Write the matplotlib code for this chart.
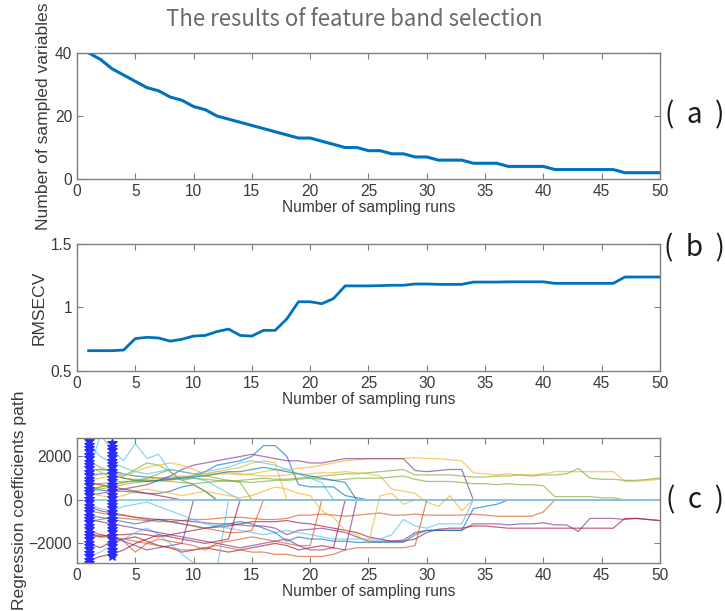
import numpy as np
import matplotlib
matplotlib.use("Agg")
import matplotlib.pyplot as plt

plt.rcParams['font.family'] = ['Liberation Sans', 'DejaVu Sans']

runs = np.arange(1, 51)

n_vars = [40, 38, 35, 33, 31, 29, 28, 26, 25, 23,
          22, 20, 19, 18, 17, 16, 15, 14, 13, 13,
          12, 11, 10, 10, 9, 9, 8, 8, 7, 7,
          6, 6, 6, 5, 5, 5, 4, 4, 4, 4,
          3, 3, 3, 3, 3, 3, 2, 2, 2, 2]

rmsecv = [0.66, 0.66, 0.66, 0.665, 0.755, 0.765, 0.76, 0.735, 0.75, 0.775,
          0.78, 0.81, 0.83, 0.78, 0.775, 0.82, 0.82, 0.91, 1.045, 1.045,
          1.03, 1.07, 1.17, 1.17, 1.17, 1.172, 1.175, 1.175, 1.185, 1.185,
          1.182, 1.182, 1.182, 1.2, 1.2, 1.2, 1.202, 1.202, 1.202, 1.202,
          1.19, 1.19, 1.19, 1.19, 1.19, 1.19, 1.24, 1.24, 1.24, 1.24]

# regression coefficient paths (one list per variable, runs 1..50)
path_01 = [1400, 1400, 1350, 1200, 1100, 1050, 1000, 1000, 1050, 1100,
           1300, 1600, 1700, 1800, 2000, 2500, 2500, 2000, 700, 600,
           600, 600, 200, 100, 0, 0, 0, 0, 0, 0,
           0, 0, 0, 0, 0, 0, 0, 0, 0, 0,
           0, 0, 0, 0, 0, 0, 0, 0, 0, 0]
path_02 = [-1000, -900, -800, -850, -900, -950, -900, -1000, -950, -900,
           -900, -850, -800, -800, -850, -900, -900, -850, -700, -700,
           -650, -700, -750, -700, -650, -600, -700, -700, -650, -700,
           -700, -700, -700, -650, -700, -750, -750, -750, -750, -550,
           0, 0, 0, 0, 0, 0, 0, 0, 0, 0]
path_03 = [500, 600, 700, 800, 900, 950, 1000, 1050, 1100, 1100,
           1150, 1200, 1200, 1150, 1200, 1300, 1400, 1400, 1450, 1500,
           1600, 1700, 1800, 1850, 1900, 1900, 1900, 1900, 1950, 1900,
           1900, 1850, 1800, 1250, 1200, 1150, 1200, 1150, 1150, 1200,
           1300, 1300, 1300, 1300, 1300, 1300, 850, 850, 900, 950]
path_04 = [-300, -500, -600, -700, -800, -850, -900, -900, -950, -1000,
           -1050, -1100, -1100, -1150, -1200, -1200, -1300, -1600, -1400, -1350,
           -1300, -1400, -1500, -1700, -1900, -1900, -1900, -1850, -1500, -1400,
           -1400, -1400, -1400, -1100, -1100, -1100, -1150, -1100, -1100, -1050,
           -1150, -1150, -1450, -850, -850, -850, -900, -850, -900, -950]
path_05 = [700, 750, 800, 850, 850, 900, 900, 950, 950, 1000,
           950, 900, 850, 900, 950, 1000, 950, 950, 1000, 1050,
           1100, 1150, 1200, 1200, 1250, 1300, 1350, 1400, 1150, 1150,
           1150, 1150, 1100, 1050, 1050, 1100, 1100, 1150, 1100, 1150,
           1150, 1200, 1450, 1000, 950, 950, 900, 900, 950, 1000]
path_06 = [1200, 3000, 2300, 1800, 2600, 1900, 2100, 1300, 900, 1000,
           900, 600, 300, 0, 0, 0, 0, 0, 0, 0,
           0, 0, 0, 0, 0, 0, 0, 0, 0, 0,
           0, 0, 0, 0, 0, 0, 0, 0, 0, 0,
           0, 0, 0, 0, 0, 0, 0, 0, 0, 0]
path_07 = [-1500, -1700, -1600, -1600, -1550, -1600, -1700, -1600, -1500, -1400,
           -1300, -1250, -1200, -1100, -1000, -1000, -1000, -950, -1050, -1100,
           -1200, -1300, -1400, -1500, -1700, -1800, -1900, -1900, -1800, -1500,
           -1350, -1300, -1300, -1200, -1200, -1250, -1300, -1300, -1300, -1300,
           -1300, -1300, -1300, -1300, -1300, -1300, -850, -850, -900, -950]
path_08 = [500, 450, 400, 400, 350, 300, 300, 400, 600, 700,
           400, 0, 0, 0, 0, 0, 0, 0, 0, 0,
           0, 0, 0, 0, 0, 0, 0, 0, 0, 0,
           0, 0, 0, 0, 0, 0, 0, 0, 0, 0,
           0, 0, 0, 0, 0, 0, 0, 0, 0, 0]
path_09 = [-1600, -1700, -1700, -1900, -2400, -2000, -1800, -1900, -2000, -2100,
           -2300, -2000, -1900, -1800, -1700, -1800, -1900, -2000, -2100, -2100,
           0, 0, 0, 0, 0, 0, 0, 0, 0, 0,
           0, 0, 0, 0, 0, 0, 0, 0, 0, 0,
           0, 0, 0, 0, 0, 0, 0, 0, 0, 0]
path_10 = [900, 1000, 1100, 1000, 950, 900, 850, 900, 1000, 1100,
           1200, 1300, 1250, 1200, 1150, 1100, 1100, 1150, 1200, 1200,
           1250, 1250, 1300, 1250, 1200, 1100, 500, 400, 300, -100,
           -300, 200, -500, 0, 0, 0, 0, 0, 0, 0,
           0, 0, 0, 0, 0, 0, 0, 0, 0, 0]
path_11 = [200, 300, 400, 500, 600, 700, 900, 1100, 1400, 1600,
           1700, 1800, 1900, 2000, 2100, 2000, 1900, 1800, 1800, 1700,
           1700, 1800, 1900, 1900, 1900, 1900, 1900, 1900, 1350, 1300,
           1350, 1400, 1400, 0, 0, 0, 0, 0, 0, 0,
           0, 0, 0, 0, 0, 0, 0, 0, 0, 0]
path_12 = [600, 500, 600, 700, 800, 850, 900, 850, 800, 750,
           800, 850, 900, 850, 800, 850, 900, 900, 950, 1000,
           950, 900, 950, 1000, 1000, 1000, 1050, 1100, 950, 850,
           850, 850, 800, 750, 750, 700, 750, 700, 700, 650,
           150, 150, 150, 150, 100, 100, 0, 0, 0, 0]
path_13 = [-200, -400, -500, -300, -200, -100, -300, -500, -700, -900,
           -1100, -1200, -1300, -1400, -1500, -1600, -1500, -1400, -1500, -1600,
           -1700, -1800, -1800, -1800, -1800, -1800, -1600, -900, -1200, -1300,
           -1100, -1100, -1100, 0, 0, 0, 0, 0, 0, 0,
           0, 0, 0, 0, 0, 0, 0, 0, 0, 0]
path_14 = [-2000, -2200, -1900, -1800, -1700, -1900, -2100, -2200, -2400, -2300,
           -2200, -2300, -2400, -2300, -2200, -2100, -2000, -2100, -2300, -2200,
           -2100, -2200, 0, 0, 0, 0, 0, 0, 0, 0,
           0, 0, 0, 0, 0, 0, 0, 0, 0, 0,
           0, 0, 0, 0, 0, 0, 0, 0, 0, 0]
path_15 = [-700, -800, -900, -1000, -1100, -1000, -900, -1000, -1100, -1200,
           -1300, -1200, -1100, -1000, -1100, -1300, -1500, -1900, -1700, -1800,
           -1800, -1900, -1900, -1950, -1950, -1950, -1950, -1950, -1600, -1400,
           -1400, -1400, -1400, -400, -300, -200, 0, 0, 0, 0,
           0, 0, 0, 0, 0, 0, 0, 0, 0, 0]
path_16 = [-1800, -1600, -1700, -1800, -1900, -2000, -2100, -2200, -2300, -2300,
           -2200, -2100, -2200, -2300, -2400, -2400, -2500, -2500, -2600, -2600,
           -2600, -2500, -2300, -2200, -2200, -2200, -2200, -2200, -2100, 0,
           0, 0, 0, 0, 0, 0, 0, 0, 0, 0,
           0, 0, 0, 0, 0, 0, 0, 0, 0, 0]
path_17 = [300, 200, 100, 200, 400, 500, 400, 300, 200, 300,
           400, 300, 200, 100, 200, 400, 600, 500, 300, 200,
           -500, -800, -1400, -1600, -2000, 200, 300, -200, 0, 0,
           0, 0, 0, 0, 0, 0, 0, 0, 0, 0,
           0, 0, 0, 0, 0, 0, 0, 0, 0, 0]
path_18 = [-1400, -1600, -1700, -1900, -2100, -2300, -2200, -2100, -2000, 0,
           0, 0, 0, 0, 0, 0, 0, 0, 0, 0,
           0, 0, 0, 0, 0, 0, 0, 0, 0, 0,
           0, 0, 0, 0, 0, 0, 0, 0, 0, 0,
           0, 0, 0, 0, 0, 0, 0, 0, 0, 0]
path_19 = [1800, 1500, 1300, 1100, 1400, 1700, 1600, 1300, 900, 700,
           400, 0, 0, 0, 0, 0, 0, 0, 0, 0,
           0, 0, 0, 0, 0, 0, 0, 0, 0, 0,
           0, 0, 0, 0, 0, 0, 0, 0, 0, 0,
           0, 0, 0, 0, 0, 0, 0, 0, 0, 0]
path_20 = [-2600, -2400, -2100, -1800, -1500, -1300, -1600, -2000, -2500, -2900,
           -3000, -3200, 0, 0, 0, 0, 0, 0, 0, 0,
           0, 0, 0, 0, 0, 0, 0, 0, 0, 0,
           0, 0, 0, 0, 0, 0, 0, 0, 0, 0,
           0, 0, 0, 0, 0, 0, 0, 0, 0, 0]
path_21 = [800, 700, 600, 500, 400, 300, 200, 100, 0, 0,
           0, 0, 0, 0, 0, 0, 0, 0, 0, 0,
           0, 0, 0, 0, 0, 0, 0, 0, 0, 0,
           0, 0, 0, 0, 0, 0, 0, 0, 0, 0,
           0, 0, 0, 0, 0, 0, 0, 0, 0, 0]
path_22 = [1100, 1200, 1200, 1000, 900, 850, 900, 950, 1000, 1050,
           1100, 1200, 1300, 1300, 1400, 1500, 1400, 1300, 1200, 1100,
           1000, 900, 800, 0, 0, 0, 0, 0, 0, 0,
           0, 0, 0, 0, 0, 0, 0, 0, 0, 0,
           0, 0, 0, 0, 0, 0, 0, 0, 0, 0]
path_23 = [-500, -600, -700, -700, -800, -900, -1000, -1000, -1100, -1200,
           -1300, -1400, -1500, -1500, -1400, 0, 0, 0, 0, 0,
           0, 0, 0, 0, 0, 0, 0, 0, 0, 0,
           0, 0, 0, 0, 0, 0, 0, 0, 0, 0,
           0, 0, 0, 0, 0, 0, 0, 0, 0, 0]
path_24 = [1500, 1300, 1000, 1100, 1300, 1500, 1600, 1700, 1600, 1400,
           1200, 1300, 1400, 1500, 1700, 1800, 1700, 0, 0, 0,
           0, 0, 0, 0, 0, 0, 0, 0, 0, 0,
           0, 0, 0, 0, 0, 0, 0, 0, 0, 0,
           0, 0, 0, 0, 0, 0, 0, 0, 0, 0]
path_25 = [-900, -1000, -1100, -1200, -1300, -1400, -1500, -1600, -1700, -1800,
           -1900, -2000, -2100, -2200, -2100, -2000, -1900, -1800, -2100, -2300,
           -2300, -2200, -2300, 0, 0, 0, 0, 0, 0, 0,
           0, 0, 0, 0, 0, 0, 0, 0, 0, 0,
           0, 0, 0, 0, 0, 0, 0, 0, 0, 0]
path_26 = [400, 600, 700, 800, 900, 1000, 1200, 1400, 1300, 1200,
           1100, 1000, 900, 800, 0, 0, 0, 0, 0, 0,
           0, 0, 0, 0, 0, 0, 0, 0, 0, 0,
           0, 0, 0, 0, 0, 0, 0, 0, 0, 0,
           0, 0, 0, 0, 0, 0, 0, 0, 0, 0]
path_27 = [2600, 2000, 1700, 1500, 1300, 1200, 1300, 1400, 1300, 1200,
           1300, 1400, 1500, 1700, 1800, 1700, 1600, 1400, 1200, 1000,
           800, 0, 0, 0, 0, 0, 0, 0, 0, 0,
           0, 0, 0, 0, 0, 0, 0, 0, 0, 0,
           0, 0, 0, 0, 0, 0, 0, 0, 0, 0]
path_28 = [-2800, -2600, -2500, -2300, -2000, -1800, -1600, -1700, -1800, -1900,
           -2000, -1900, -1800, 0, 0, 0, 0, 0, 0, 0,
           0, 0, 0, 0, 0, 0, 0, 0, 0, 0,
           0, 0, 0, 0, 0, 0, 0, 0, 0, 0,
           0, 0, 0, 0, 0, 0, 0, 0, 0, 0]
zero_path = [0] * 50

coef_paths = [path_01, path_02, path_03, path_04, path_05, path_06, path_07,
              path_08, path_09, path_10, path_11, path_12, path_13, path_14,
              path_15, path_16, path_17, path_18, path_19, path_20, path_21,
              path_22, path_23, path_24, path_25, path_26, path_27, path_28]

# runs marked with the star columns
marked_runs = [1, 3]
marked_spans = [(-2900, 2850), (-2600, 2600)]

matlab_colors = ['#0072BD', '#D95319', '#EDB120', '#7E2F8E',
                 '#77AC30', '#4DBEEE', '#A2142F']
line_blue = '#0072BD'
axis_gray = '#7f7f7f'
text_gray = '#3a3a3a'
fs = 11.2
fs_ylab = 12.6

fig = plt.figure(figsize=(7.25, 6.11), dpi=100)
ax1 = fig.add_axes([0.1062, 0.707, 0.804, 0.2063])
ax2 = fig.add_axes([0.1062, 0.3928, 0.804, 0.2079])
ax3 = fig.add_axes([0.1062, 0.0786, 0.804, 0.2046])


def style(ax):
    ax.tick_params(direction='in', top=True, right=True, length=4,
                   colors=axis_gray, labelcolor=text_gray, labelsize=fs,
                   width=0.8)
    for s in ax.spines.values():
        s.set_color(axis_gray)
        s.set_linewidth(1.0)
    ax.set_xlim(0, 50)
    ax.set_xticks(range(0, 51, 5))
    ax.set_xlabel('Number of sampling runs', fontsize=fs, color=text_gray,
                  labelpad=1)


ax1.plot(runs, n_vars, color=line_blue, lw=2.2)
style(ax1)
ax1.set_ylim(0, 40)
ax1.set_yticks([0, 20, 40])
ax1.set_ylabel('Number of sampled variables', fontsize=fs_ylab,
               color=text_gray, labelpad=3)

ax2.plot(runs, rmsecv, color=line_blue, lw=2.0)
style(ax2)
ax2.set_ylim(0.5, 1.5)
ax2.set_yticks([0.5, 1, 1.5])
ax2.set_yticklabels(['0.5', '1', '1.5'])
ax2.set_ylabel('RMSECV', fontsize=fs_ylab, color=text_gray, labelpad=3)

for i, p in enumerate(coef_paths):
    ax3.plot(runs, p, color=matlab_colors[i % 7], lw=0.9, alpha=0.65)
ax3.plot(runs, zero_path, color='#8ccbea', lw=1.3)
for r, (lo, hi) in zip(marked_runs, marked_spans):
    ys = np.linspace(lo, hi, int((hi - lo) / 150))
    ax3.plot(np.full(len(ys), r), ys, '*', color='#2a2aff', ms=7, mew=0.7,
             clip_on=True)
style(ax3)
ax3.set_ylim(-2900, 2850)
ax3.set_yticks([-2000, 0, 2000])
ax3.set_ylabel('Regression coefficients path', fontsize=fs_ylab,
               color=text_gray, labelpad=1)

title_font = ['Noto Sans CJK SC', 'DejaVu Sans']
fig.text(0.488, 0.968, 'The results of feature band selection', ha='center',
         va='center', fontsize=16, color='#6a6a6a', family=title_font,
         weight='light')
for lab, ypix in [('(  a  )', 115), ('(  b  )', 248), ('(  c  )', 500)]:
    fig.text(0.958, 1 - ypix / 611, lab, ha='center', va='center',
             fontsize=20, color='#1a1a1a', family=title_font, weight='light')

fig.savefig('out.png', dpi=100)
